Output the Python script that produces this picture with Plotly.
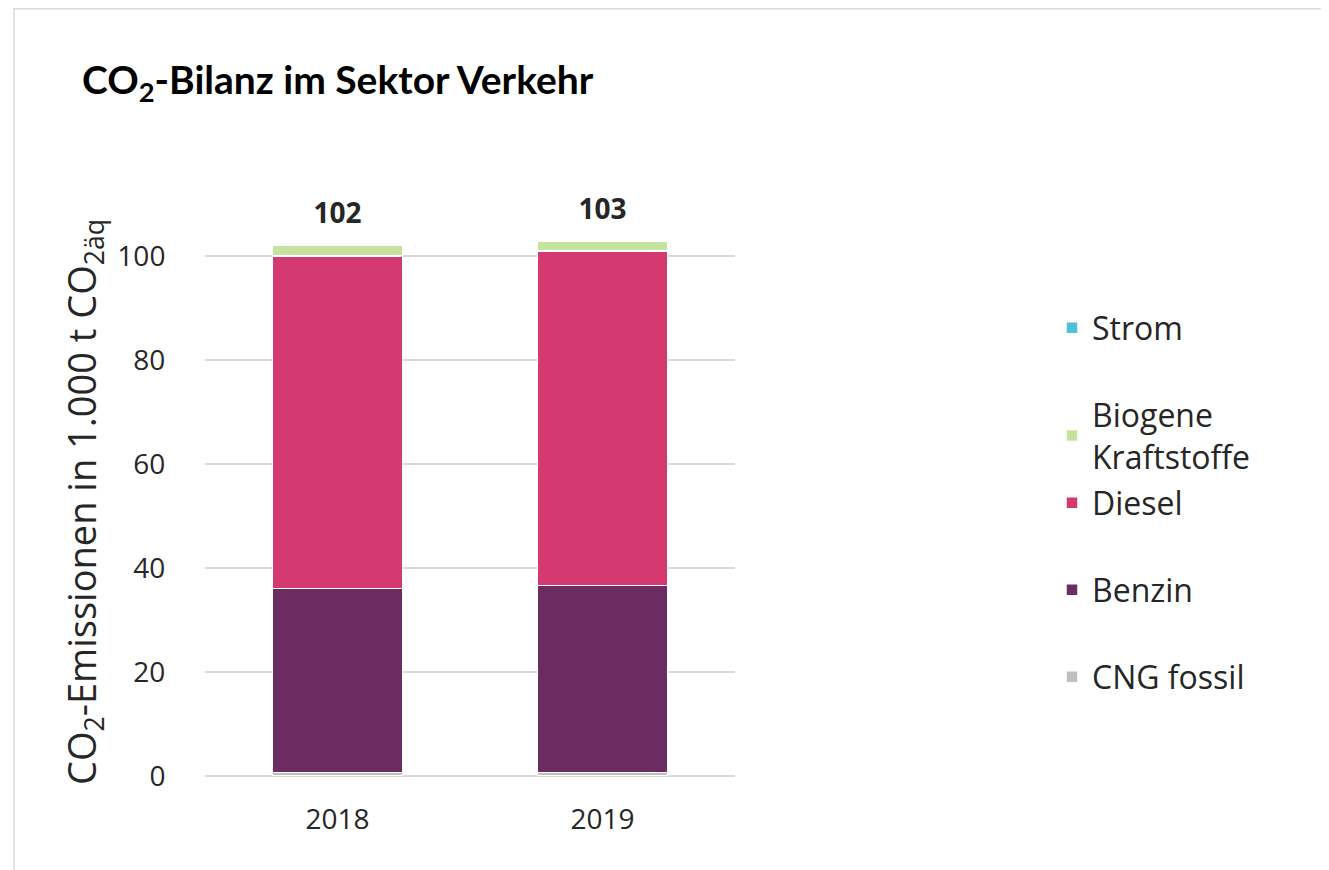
import plotly.graph_objects as go

years = ["2018", "2019"]
cng = [0.7, 0.7]
benzin = [35.4, 35.9]
diesel = [63.9, 64.4]
biogene = [2.1, 1.9]
strom = [0.0, 0.0]
total_labels = ["102", "103"]

W, H = 1329, 870
L, R, T, B = 197, 602, 170, 102
pw, ph = W - L - R, H - T - B

def px_x(p):
    return (p - L) / pw

def px_y(p):
    return (H - B - p) / ph

# name, values, colour, legend id, legend centre (px from top)
series = [
    ("CNG fossil", cng, "#BFBFBF", "legend", 669),
    ("Benzin", benzin, "#6B2C62", "legend2", 582),
    ("Diesel", diesel, "#D43A70", "legend3", 495),
    ("Biogene<br>Kraftstoffe", biogene, "#C5E39E", "legend4", 428),
    ("Strom", strom, "#4FC1D6", "legend5", 320),
]

fig = go.Figure()
legend_layout = {}
for name, vals, col, lg, yc in series:
    fig.add_trace(go.Bar(
        x=years, y=vals, name=name, legend=lg,
        marker=dict(color=col, line=dict(color="white", width=1.5)),
    ))
    legend_layout[lg] = dict(
        x=px_x(1044), xanchor="left", y=px_y(yc), yanchor="middle",
        bgcolor="rgba(0,0,0,0)",
        font=dict(family="Open Sans", size=32, color="#262626"),
    )

totals = [sum(v) for v in zip(cng, benzin, diesel, biogene, strom)]
fig.add_trace(go.Scatter(
    x=years, y=totals, mode="markers+text",
    text=["<b>" + t + "</b>" for t in total_labels],
    textposition="top center", showlegend=False, hoverinfo="skip",
    marker=dict(size=23, color="rgba(0,0,0,0)"),
    textfont=dict(family="Open Sans", size=28, color="#262626"),
))

fig.add_shape(type="rect", xref="paper", yref="paper",
              x0=px_x(6), x1=px_x(1316), y0=px_y(900), y1=px_y(0.8),
              line=dict(color="#D9D9D9", width=1.5), layer="below")

fig.add_annotation(xref="paper", yref="paper", x=px_x(75), y=px_y(494),
                   xanchor="center", yanchor="middle", textangle=-90, showarrow=False,
                   text="CO<sub>2</sub>-Emissionen in 1.000 t CO<sub>2äq</sub>",
                   font=dict(family="Open Sans", size=38, color="#262626"))

fig.update_layout(
    width=W, height=H,
    margin=dict(l=L, r=R, t=T, b=B, autoexpand=False),
    barmode="stack", bargap=0.51,
    plot_bgcolor="white", paper_bgcolor="white",
    font=dict(family="Open Sans", color="#262626"),
    title=dict(text="CO<sub>2</sub>-Bilanz im Sektor Verkehr",
               x=74 / W, xanchor="left", y=1 - 72 / H, yanchor="middle",
               font=dict(family="Lato", size=39, color="#000000", weight="bold")),
    showlegend=True,
    **legend_layout,
)
fig.update_xaxes(type="category", categoryorder="array", categoryarray=years,
                 range=[-0.5, 1.5], showgrid=False, showline=False,
                 ticks="outside", ticklen=18, tickcolor="rgba(0,0,0,0)",
                 tickfont=dict(family="Open Sans", size=28, color="#262626"))
fig.update_yaxes(range=[0, 115], tickvals=[0, 20, 40, 60, 80, 100],
                 showgrid=True, gridcolor="#D9D9D9", gridwidth=1.5,
                 zeroline=True, zerolinecolor="#D9D9D9", zerolinewidth=1.5,
                 ticks="outside", ticklen=33, tickcolor="rgba(0,0,0,0)",
                 tickfont=dict(family="Open Sans", size=28, color="#262626"))

fig.write_html("out.html")
